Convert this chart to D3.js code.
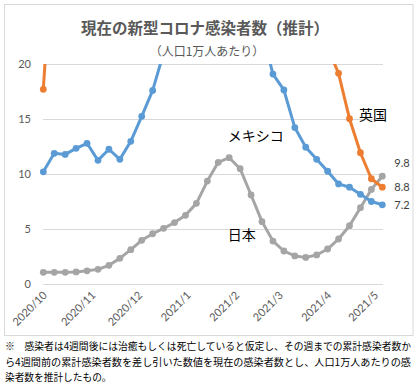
<!DOCTYPE html>
<html><head><meta charset="utf-8">
<script src="https://cdn.jsdelivr.net/npm/d3@7"></script>
<style>
html,body{margin:0;padding:0;background:#fff;}
svg{display:block;}
</style></head>
<body>
<svg id="chart" width="418" height="388"></svg>
<script>
const weeks = ["2020-10-04","2020-10-11","2020-10-18","2020-10-25","2020-11-01","2020-11-08","2020-11-15","2020-11-22","2020-11-29",
"2020-12-06","2020-12-13","2020-12-20","2020-12-27","2021-01-03","2021-01-10","2021-01-17","2021-01-24","2021-01-31",
"2021-02-07","2021-02-14","2021-02-21","2021-02-28","2021-03-07","2021-03-14","2021-03-21","2021-03-28",
"2021-04-04","2021-04-11","2021-04-18","2021-04-25","2021-05-02","2021-05-09"];
const japan = [1.06,1.06,1.06,1.1,1.2,1.33,1.7,2.33,3.12,3.97,4.57,5.06,5.58,6.24,7.33,9.36,11.06,11.48,10.48,8.09,5.67,3.9,3.0,2.55,2.42,2.64,3.18,4.09,5.3,6.94,8.6,9.8];
const mexico = [10.2,11.88,11.78,12.33,12.79,11.24,12.25,11.33,12.97,15.24,17.6,21,24,27,31,35,37,36,32,27,23,19.08,17.64,14.22,12.44,11.33,10.25,9.1,8.8,8.15,7.5,7.2];
const uk = [17.7,33,50,67,84,92,96,96,84,75,75,100,125,167,217,230,210,167,117,80,54,42,31,27,24,23,21.5,19.15,15.03,11.93,9.57,8.8];
const tickDates = ["2020-10-04","2020-11-04","2020-12-04","2021-01-04","2021-02-04","2021-03-04","2021-04-04","2021-05-04"];
const tickLabels = ["2020/10","2020/11","2020/12","2021/1","2021/2","2021/3","2021/4","2021/5"];
const yTicks = [0,5,10,15,20];
const seriesNames = ["日本","メキシコ","英国"];
const endLabels = ["9.8","7.2","8.8"];
const title = "現在の新型コロナ感染者数（推計）";
const subtitle = "（人口1万人あたり）";
const notes = ["※　感染者は4週間後には治癒もしくは死亡していると仮定し、その週までの累計感染者数か",
"ら4週間前の累計感染者数を差し引いた数値を現在の感染者数とし、人口1万人あたりの感",
"染者数を推計したもの。"];

const parse = d3.timeParse("%Y-%m-%d");
const dates = weeks.map(parse);
const svg = d3.select("#chart");
const jp = '"Noto Sans CJK JP", sans-serif';
const num = 'Lato, "Noto Sans", sans-serif';

const x = d3.scaleTime().domain([dates[0], dates[dates.length-1]]).range([43.3, 382.3]);
const y = d3.scaleLinear().domain([0,20]).range([284,64]);

// border
svg.append("rect").attr("x",4.5).attr("y",4.5).attr("width",408.5).attr("height",331)
  .attr("fill","#fff").attr("stroke","#d9d9d9").attr("stroke-width",1);

// title
svg.append("text").attr("x",205).attr("y",34).attr("text-anchor","middle")
  .attr("font-family",jp).attr("font-weight","bold").attr("font-size",15.5).attr("fill","#595959").text(title);
svg.append("text").attr("x",207).attr("y",56).attr("text-anchor","middle")
  .attr("font-family",jp).attr("font-size",12).attr("fill","#595959").text(subtitle);

// grid
const grid = svg.append("g");
grid.selectAll("line").data(yTicks).join("line")
  .attr("x1",43).attr("x2",383).attr("y1",d=>Math.round(y(d))+0.5).attr("y2",d=>Math.round(y(d))+0.5)
  .attr("stroke","#d9d9d9").attr("stroke-width",1);

// y axis
const yAxis = d3.axisLeft(y).tickValues(yTicks).tickSize(0).tickPadding(0);
const ya = svg.append("g").attr("transform","translate(31,0)").call(yAxis);
ya.select(".domain").remove();
ya.selectAll("text").attr("font-family",num).attr("font-size",11).attr("fill","#595959");

// x axis
const xAxis = d3.axisBottom(x).tickValues(tickDates.map(parse)).tickSize(0)
  .tickFormat((d,i)=>tickLabels[i]);
const xa = svg.append("g").attr("transform","translate(0,284)").call(xAxis);
xa.select(".domain").remove();
xa.selectAll("text").attr("font-family",num).attr("font-size",11).attr("fill","#595959")
  .attr("text-anchor","end").attr("dy",0).attr("y",0)
  .attr("transform","translate(4,12) rotate(-45)");

// clip
svg.append("clipPath").attr("id","clip").append("rect").attr("x",0).attr("y",64).attr("width",418).attr("height",240);

const series = [
  {vals: japan, color:"#A5A5A5"},
  {vals: mexico, color:"#5B9BD5"},
  {vals: uk, color:"#ED7D31"}
];
const line = d3.line().x((d,i)=>x(dates[i])).y(d=>y(d));
const plot = svg.append("g").attr("clip-path","url(#clip)");
series.forEach(s=>{
  const g = plot.append("g");
  g.append("path").datum(s.vals).attr("d",line).attr("fill","none")
    .attr("stroke",s.color).attr("stroke-width",3).attr("stroke-linejoin","round");
  g.selectAll("circle").data(s.vals).join("circle")
    .attr("cx",(d,i)=>x(dates[i])).attr("cy",d=>y(d)).attr("r",3.4).attr("fill",s.color);
});

// end value labels
const last = dates.length-1;
const endDy = [-13, 0, 0];
series.forEach((s,k)=>{
  svg.append("text").attr("x",x(dates[last])+12).attr("y",y(s.vals[last])+endDy[k]).attr("dy","0.35em")
    .attr("font-family",num).attr("font-size",11).attr("fill","#404040").text(endLabels[k]);
});

// series name labels
const nameAt = [{d:dates[17], v:4}, {d:dates[17], v:13}, {d:dates[29], v:14.9}];
seriesNames.forEach((n,k)=>{
  svg.append("text").attr("x",x(nameAt[k].d)-1.5).attr("y",y(nameAt[k].v))
    .attr("font-family",jp).attr("font-size",14).attr("fill","#000").text(n);
});

// footnote
notes.forEach((t,i)=>{
  const tx = svg.append("text").attr("x",5).attr("y",350+i*15.5)
    .attr("font-family",jp).attr("font-size",9.7).attr("fill","#000").text(t);
  if(i<2) tx.attr("textLength",406).attr("lengthAdjust","spacingAndGlyphs");
});
</script>
</body></html>
